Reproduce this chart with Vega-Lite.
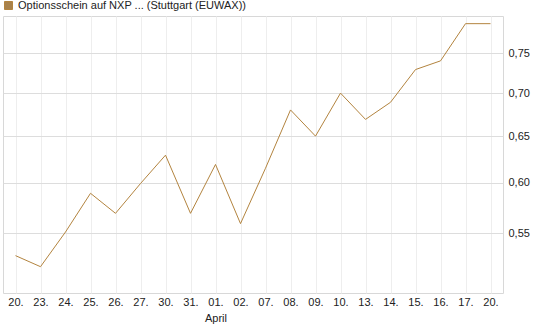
{
  "$schema": "https://vega.github.io/schema/vega-lite/v6.json",
  "width": 500,
  "height": 277,
  "autosize": {"type": "none"},
  "padding": {"left": 3, "top": 16, "right": 42, "bottom": 34},
  "background": "white",
  "config": {
    "font": "Liberation Sans",
    "view": {"stroke": "#d8d8d8", "strokeWidth": 1}
  },
  "data": {
    "values": [
      {"d": "03-20", "v": 0.529, "s": "Optionsschein auf NXP ... (Stuttgart (EUWAX))"},
      {"d": "03-23", "v": 0.519, "s": "Optionsschein auf NXP ... (Stuttgart (EUWAX))"},
      {"d": "03-24", "v": 0.551, "s": "Optionsschein auf NXP ... (Stuttgart (EUWAX))"},
      {"d": "03-25", "v": 0.589, "s": "Optionsschein auf NXP ... (Stuttgart (EUWAX))"},
      {"d": "03-26", "v": 0.569, "s": "Optionsschein auf NXP ... (Stuttgart (EUWAX))"},
      {"d": "03-27", "v": 0.599, "s": "Optionsschein auf NXP ... (Stuttgart (EUWAX))"},
      {"d": "03-30", "v": 0.629, "s": "Optionsschein auf NXP ... (Stuttgart (EUWAX))"},
      {"d": "03-31", "v": 0.569, "s": "Optionsschein auf NXP ... (Stuttgart (EUWAX))"},
      {"d": "04-01", "v": 0.619, "s": "Optionsschein auf NXP ... (Stuttgart (EUWAX))"},
      {"d": "04-02", "v": 0.559, "s": "Optionsschein auf NXP ... (Stuttgart (EUWAX))"},
      {"d": "04-07", "v": 0.615, "s": "Optionsschein auf NXP ... (Stuttgart (EUWAX))"},
      {"d": "04-08", "v": 0.68, "s": "Optionsschein auf NXP ... (Stuttgart (EUWAX))"},
      {"d": "04-09", "v": 0.65, "s": "Optionsschein auf NXP ... (Stuttgart (EUWAX))"},
      {"d": "04-10", "v": 0.70, "s": "Optionsschein auf NXP ... (Stuttgart (EUWAX))"},
      {"d": "04-13", "v": 0.669, "s": "Optionsschein auf NXP ... (Stuttgart (EUWAX))"},
      {"d": "04-14", "v": 0.689, "s": "Optionsschein auf NXP ... (Stuttgart (EUWAX))"},
      {"d": "04-15", "v": 0.729, "s": "Optionsschein auf NXP ... (Stuttgart (EUWAX))"},
      {"d": "04-16", "v": 0.74, "s": "Optionsschein auf NXP ... (Stuttgart (EUWAX))"},
      {"d": "04-17", "v": 0.789, "s": "Optionsschein auf NXP ... (Stuttgart (EUWAX))"},
      {"d": "04-20", "v": 0.789, "s": "Optionsschein auf NXP ... (Stuttgart (EUWAX))"}
    ]
  },
  "mark": {"type": "line", "strokeWidth": 1, "interpolate": "linear"},
  "encoding": {
    "x": {
      "field": "d",
      "type": "ordinal",
      "sort": null,
      "scale": {"type": "point", "padding": 0.5},
      "axis": {
        "title": null,
        "domain": false,
        "ticks": false,
        "grid": true,
        "gridColor": "#eeeeee",
        "gridWidth": 1,
        "labelAngle": 0,
        "labelFontSize": 11,
        "labelColor": "#222222",
        "labelPadding": 3,
        "labelLineHeight": 16,
        "labelExpr": "datum.value == '04-01' ? ['01.', 'April'] : slice(datum.value, 3) + '.'"
      }
    },
    "y": {
      "field": "v",
      "type": "quantitative",
      "scale": {"type": "log", "domain": [0.496, 0.7995], "nice": false, "zero": false},
      "axis": {
        "orient": "right",
        "title": null,
        "domain": false,
        "ticks": false,
        "values": [0.55, 0.6, 0.65, 0.7, 0.75],
        "grid": true,
        "gridColor": "#dddddd",
        "gridWidth": 1,
        "labelFontSize": 11,
        "labelColor": "#222222",
        "labelPadding": 5,
        "labelExpr": "replace(format(datum.value, '.2f'), '.', ',')"
      }
    },
    "color": {
      "field": "s",
      "type": "nominal",
      "scale": {"range": ["#b3843f"]},
      "legend": {
        "title": null,
        "orient": "none",
        "legendX": 0,
        "legendY": -16,
        "symbolType": "square",
        "symbolSize": 64,
        "symbolStrokeWidth": 1,
        "labelFontSize": 11,
        "labelColor": "#222222",
        "labelOffset": 4,
        "labelLimit": 0,
        "encode": {
          "symbols": {
            "update": {
              "fill": {"value": "#a8824c"},
              "stroke": {"value": "#4a3a25"},
              "strokeWidth": {"value": 1}
            }
          }
        }
      }
    }
  }
}
